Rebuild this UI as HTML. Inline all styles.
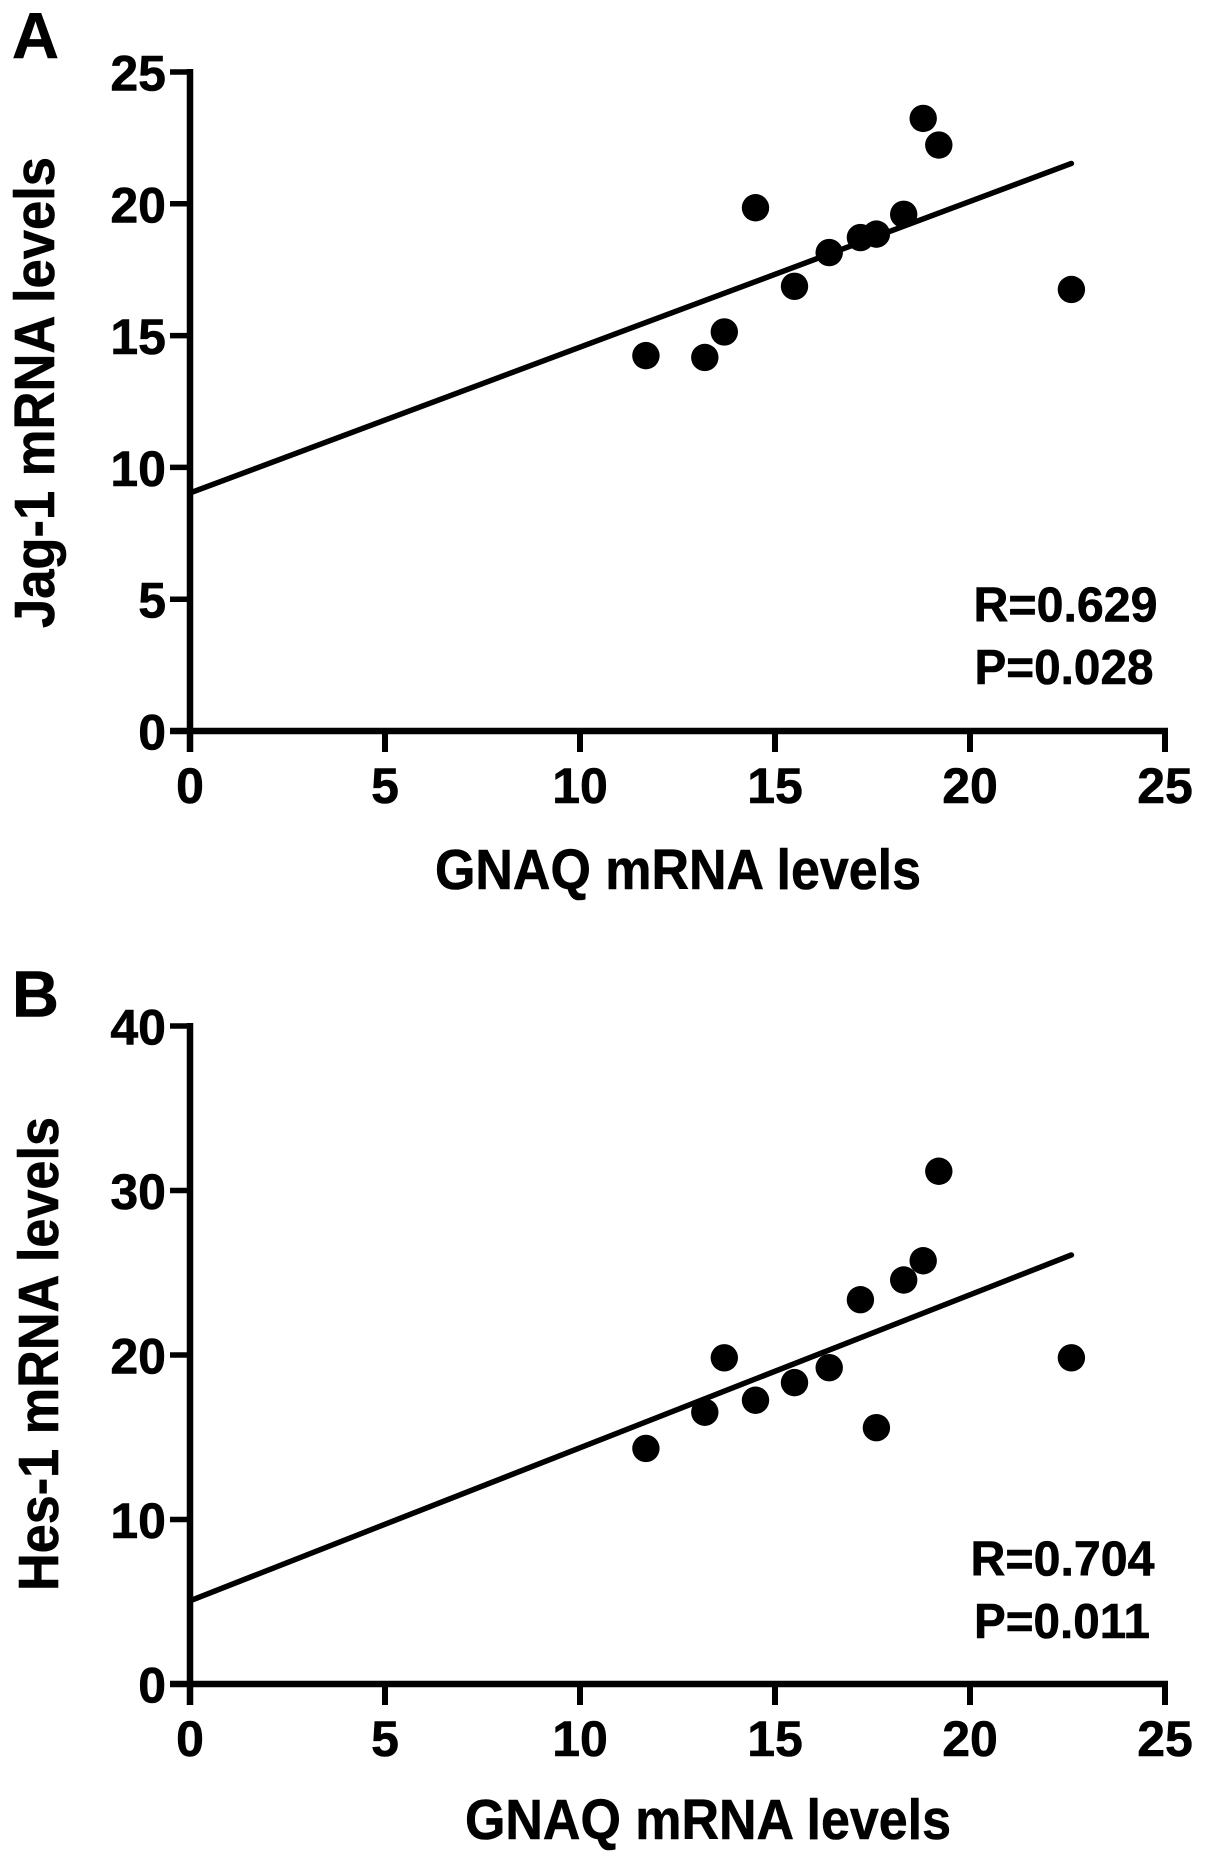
<!DOCTYPE html>
<html>
<head>
<meta charset="utf-8">
<title>GNAQ correlation scatter plots</title>
<style>
html,body{margin:0;padding:0;background:#fff;}
svg{display:block;}
text{font-family:"Liberation Sans",Arial,sans-serif;font-weight:700;fill:#000;stroke:#000;stroke-width:0.6px;}
</style>
</head>
<body>
<svg id="figure" xmlns="http://www.w3.org/2000/svg" width="1205" height="1856" viewBox="0 0 1205 1856">
  <rect width="1205" height="1856" fill="#fff"/>
  <text x="12" y="58" font-size="65">A</text>
  <text x="12" y="1016.5" font-size="65">B</text>

  <text transform="translate(54 628) rotate(-90)" font-size="57" textLength="471" lengthAdjust="spacingAndGlyphs">Jag-1 mRNA levels</text>
  <text x="435" y="889" font-size="57" textLength="486" lengthAdjust="spacingAndGlyphs">GNAQ mRNA levels</text>
  <text x="973.5" y="621.5" font-size="49" textLength="184" lengthAdjust="spacingAndGlyphs">R=0.629</text>
  <text x="974.5" y="684" font-size="49" textLength="179" lengthAdjust="spacingAndGlyphs">P=0.028</text>

  <text transform="translate(58 1591) rotate(-90)" font-size="57" textLength="474" lengthAdjust="spacingAndGlyphs">Hes-1 mRNA levels</text>
  <text x="465" y="1839" font-size="57" textLength="486" lengthAdjust="spacingAndGlyphs">GNAQ mRNA levels</text>
  <text x="970.5" y="1575.5" font-size="49" textLength="184" lengthAdjust="spacingAndGlyphs">R=0.704</text>
  <text x="974" y="1638" font-size="49" textLength="176" lengthAdjust="spacingAndGlyphs">P=0.011</text>
</svg>
<script>
// Values
const xTicks = [0, 5, 10, 15, 20, 25];
const jagYTicks = [0, 5, 10, 15, 20, 25];
const hesYTicks = [0, 10, 20, 30, 40];

const gnaqA = [11.69, 13.20, 13.70, 14.50, 15.50, 16.39, 17.19, 17.60, 18.30, 18.80, 19.20, 22.60];
const jag1 = [14.24, 14.17, 15.14, 19.85, 16.87, 18.15, 18.72, 18.85, 19.60, 23.24, 22.23, 16.75];

const gnaqB = [11.69, 13.20, 13.70, 14.50, 15.50, 16.39, 17.19, 17.60, 18.30, 18.80, 19.20, 22.60];
const hes1 = [14.32, 16.52, 19.83, 17.25, 18.32, 19.23, 23.36, 15.58, 24.56, 25.73, 31.17, 19.83];

const fitXA = [0, 22.6];
const fitYA = [9.03, 21.53];
const fitXB = [0, 22.6];
const fitYB = [5.06, 26.08];

const SVG_NS = 'http://www.w3.org/2000/svg';
const figure = document.getElementById('figure');

function mk(parent, tag, attrs) {
  const el = document.createElementNS(SVG_NS, tag);
  for (const k in attrs) el.setAttribute(k, attrs[k]);
  parent.appendChild(el);
  return el;
}

function drawPanel(prefix, geom, yTicks, xs, ys, fitX, fitY) {
  const xMax = xTicks[xTicks.length - 1];
  const yMax = yTicks[yTicks.length - 1];
  const sx = v => geom.x0 + (geom.x1 - geom.x0) * v / xMax;
  const sy = v => geom.y0 + (geom.y1 - geom.y0) * v / yMax;

  const g = mk(figure, 'g', {});
  
  

  const fit = mk(g, 'line', {
    x1: sx(fitX[0]), y1: sy(fitY[0]), x2: sx(fitX[1]), y2: sy(fitY[1]),
    stroke: '#000', 'stroke-width': 5.5, 'stroke-linecap': 'round'
  });
  
  

  const yAxis = mk(g, 'line', {
    x1: geom.x0, y1: geom.y1 - 3, x2: geom.x0, y2: geom.y0 + 21,
    stroke: '#000', 'stroke-width': 6.5
  });
  
  

  const xAxis = mk(g, 'line', {
    x1: geom.x0 - 20, y1: geom.y0, x2: geom.x1 + 3, y2: geom.y0,
    stroke: '#000', 'stroke-width': 6.5
  });
  
  

  yTicks.forEach(v => {
    const tick = mk(g, 'line', {
      x1: geom.x0 - 20, y1: sy(v), x2: geom.x0, y2: sy(v),
      stroke: '#000', 'stroke-width': 5.5
    });
    
    

    const label = mk(g, 'text', {
      x: geom.x0 - 24, y: sy(v) + 18.5, 'font-size': 50, 'text-anchor': 'end'
    });
    label.textContent = v;
    
    
  });

  xTicks.forEach(v => {
    const tick = mk(g, 'line', {
      x1: sx(v), y1: geom.y0, x2: sx(v), y2: geom.y0 + 21,
      stroke: '#000', 'stroke-width': 6
    });
    
    

    const label = mk(g, 'text', {
      x: sx(v), y: geom.y0 + 72, 'font-size': 50, 'text-anchor': 'middle'
    });
    label.textContent = v;
    
    
  });

  xs.forEach((v, i) => {
    const pt = mk(g, 'circle', { cx: sx(v), cy: sy(ys[i]), r: 13.7, fill: '#000' });
    
    
  });
}

drawPanel('panel-a', { x0: 190, x1: 1165, y0: 731, y1: 72 }, jagYTicks, gnaqA, jag1, fitXA, fitYA);
drawPanel('panel-b', { x0: 190, x1: 1165, y0: 1684, y1: 1026 }, hesYTicks, gnaqB, hes1, fitXB, fitYB);
</script>
</body>
</html>
